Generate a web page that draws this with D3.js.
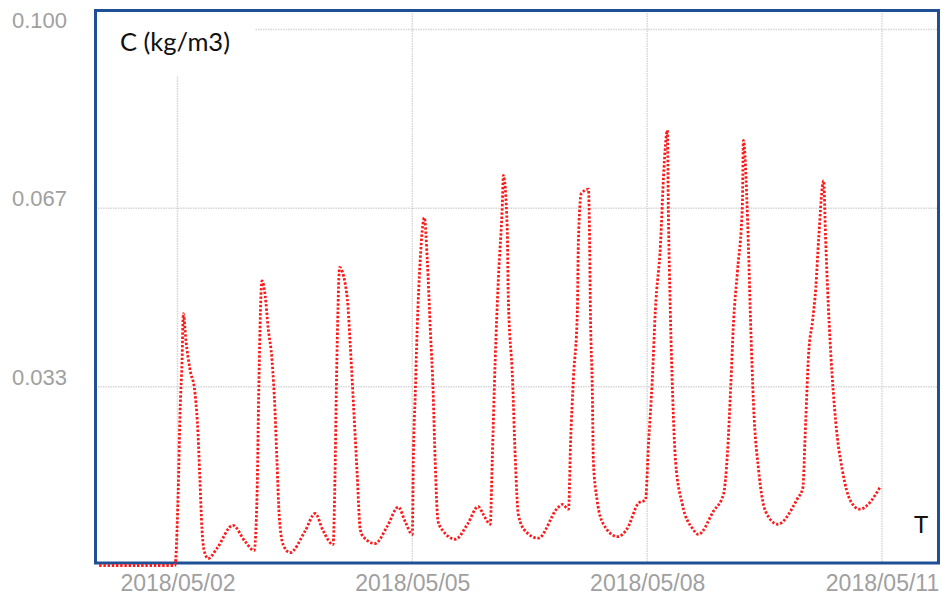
<!DOCTYPE html>
<html>
<head>
<meta charset="utf-8">
<script src="https://cdn.jsdelivr.net/npm/d3@7"></script>
<style>
  html, body { margin: 0; padding: 0; background: #ffffff; }
  svg { display: block; }
</style>
</head>
<body>
<svg id="chart" width="943" height="596"></svg>
<script>
// ---------------- data ----------------
const startTime = "2018-05-01T00:00:00";
// hours elapsed since startTime
const hours = [
  0, 23.2, 24.2, 24.8, 25.4, 25.8, 26.6, 27.8, 29.4, 30.3, 30.9, 31.5, 32.1, 33.4, 36.1, 41.0, 44.7, 47.5,
  48.4, 48.9, 49.3, 49.9, 50.9, 51.8, 53.0, 53.9, 54.5, 55.2, 56.4, 58.5, 63.1, 66.2, 68.7, 71.7,
  72.3, 72.7, 73.1, 73.7, 75.4, 76.3, 76.9, 77.9, 79.1, 80.0, 80.9, 84.6, 88.3, 91.7, 93.8, 96.0,
  96.3, 96.9, 97.5, 98.4, 99.7, 100.6, 101.5, 102.4, 103.0, 103.9, 105.5, 109.2, 112.9, 116.2, 117.8, 119.9,
  120.5, 121.4, 122.4, 123.6, 123.9, 125.1, 125.4, 126.7, 127.6, 128.5, 130.7, 134.6, 140.5, 142.0, 143.9,
  144.5, 145.4, 146.6, 146.9, 147.8, 150.0, 150.3, 150.6, 151.2, 151.5, 152.7, 154.6, 158.9, 161.9, 165.3, 167.5,
  168.4, 169.6, 170.5, 172.1, 173.0, 174.2, 174.5, 175.1, 175.8, 176.7, 178.8, 181.9, 183.7, 188.3, 191.4,
  192.6, 193.6, 194.5, 195.7, 197.2, 197.5, 198.8, 199.7, 200.6, 202.2, 204.3, 208.0, 214.1, 215.7,
  216.6, 217.5, 218.7, 219.7, 220.6, 222.1, 222.7, 223.3, 224.3, 225.8, 227.9, 230.4, 233.2, 239.6
];
// concentration C (kg/m3)
const concentration = [
  0, 0, 0.0133, 0.0288, 0.0382, 0.0470, 0.0419, 0.0367, 0.0320, 0.0245, 0.0157, 0.0069, 0.0030, 0.0013, 0.0032, 0.0075, 0.0045, 0.0028,
  0.0133, 0.0320, 0.0443, 0.0531, 0.0503, 0.0443, 0.0382, 0.0288, 0.0195, 0.0092, 0.0039, 0.0024, 0.0064, 0.0097, 0.0064, 0.0039,
  0.0170, 0.0326, 0.0451, 0.0556, 0.0526, 0.0481, 0.0419, 0.0307, 0.0170, 0.0069, 0.0054, 0.0041, 0.0073, 0.0109, 0.0082, 0.0058,
  0.0195, 0.0320, 0.0443, 0.0568, 0.0649, 0.0568, 0.0443, 0.0320, 0.0195, 0.0082, 0.0064, 0.0049, 0.0077, 0.0110, 0.0095, 0.0077,
  0.0195, 0.0382, 0.0537, 0.0675, 0.0728, 0.0630, 0.0507, 0.0350, 0.0195, 0.0095, 0.0064, 0.0051, 0.0107, 0.0114, 0.0105,
  0.0226, 0.0350, 0.0475, 0.0601, 0.0694, 0.0702, 0.0630, 0.0475, 0.0320, 0.0195, 0.0120, 0.0077, 0.0054, 0.0069, 0.0116, 0.0123,
  0.0226, 0.0350, 0.0475, 0.0601, 0.0724, 0.0812, 0.0662, 0.0475, 0.0320, 0.0195, 0.0114, 0.0069, 0.0058, 0.0101, 0.0133,
  0.0208, 0.0331, 0.0456, 0.0550, 0.0675, 0.0793, 0.0643, 0.0456, 0.0301, 0.0176, 0.0101, 0.0077, 0.0125, 0.0144,
  0.0269, 0.0395, 0.0456, 0.0518, 0.0612, 0.0718, 0.0612, 0.0518, 0.0395, 0.0269, 0.0176, 0.0120, 0.0105, 0.0148
];
const xTickDates = ["2018-05-02T00:00:00", "2018-05-05T00:00:00", "2018-05-08T00:00:00", "2018-05-11T00:00:00"];
const yTickValues = [0.1 / 3, 0.2 / 3, 0.1];
const yTickLabels = ["0.033", "0.067", "0.100"];
const yAxisTitle = "C (kg/m3)";
const xAxisTitle = "T";

// ---------------- chart ----------------
const svg = d3.select("#chart");
const t0 = new Date(startTime);
const points = hours.map((h, i) => ({ t: new Date(t0.getTime() + h * 3600e3), v: concentration[i] }));

const x = d3.scaleTime()
  .domain([new Date("2018-05-01T00:00:00"), new Date("2018-05-11T00:00:00")])
  .range([99.2, 882]);
const y = d3.scaleLinear().domain([0, 0.1]).range([565.5, 29.5]);

const frame = { left: 95.5, top: 10.5, right: 938.5, bottom: 563 };
const gridColor = "#d6d6d6";

// gridlines
const grid = svg.append("g");
grid.selectAll("line.h").data(yTickValues).join("line")
  .attr("x1", frame.left).attr("x2", frame.right)
  .attr("y1", d => y(d)).attr("y2", d => y(d))
  .attr("stroke", gridColor).attr("stroke-width", 1.5).attr("stroke-dasharray", "1.5,1");
grid.selectAll("line.v").data(xTickDates).join("line")
  .attr("x1", d => x(new Date(d))).attr("x2", d => x(new Date(d)))
  .attr("y1", frame.top).attr("y2", frame.bottom)
  .attr("stroke", gridColor).attr("stroke-width", 1.5).attr("stroke-dasharray", "1.5,1");

// label box in the top-left corner (hides gridlines)
svg.append("rect").attr("x", 98).attr("y", 13).attr("width", 157).attr("height", 63).attr("fill", "#ffffff");
svg.append("text").attr("x", 120).attr("y", 51)
  .attr("font-family", "Lato, 'Open Sans', sans-serif").attr("font-size", 25.5).attr("fill", "#111")
  .text(yAxisTitle);
svg.append("text").attr("x", 914).attr("y", 533)
  .attr("font-family", "Lato, 'Open Sans', sans-serif").attr("font-size", 24).attr("fill", "#111")
  .text(xAxisTitle);

// frame
svg.append("rect")
  .attr("x", frame.left).attr("y", frame.top)
  .attr("width", frame.right - frame.left).attr("height", frame.bottom - frame.top)
  .attr("fill", "none").attr("stroke", "#1f4f95").attr("stroke-width", 3);

// axes (labels only)
const xAxis = d3.axisBottom(x)
  .tickValues(xTickDates.map(d => new Date(d)))
  .tickFormat(d3.timeFormat("%Y/%m/%d"))
  .tickSize(0).tickPadding(0);
const gx = svg.append("g").attr("transform", "translate(0,575)")
  .attr("font-family", "'Liberation Sans', Arial, sans-serif").call(xAxis);
gx.attr("font-family", "'Liberation Sans', Arial, sans-serif").attr("font-size", 23);
gx.select(".domain").remove();
gx.selectAll("text").attr("fill", "#a0a0a0").attr("dy", "0.71em");

const yAxis = d3.axisLeft(y)
  .tickValues(yTickValues)
  .tickFormat((d, i) => yTickLabels[i])
  .tickSize(0).tickPadding(0);
const gy = svg.append("g").attr("transform", "translate(67,0)").call(yAxis);
gy.attr("font-family", "'Liberation Sans', Arial, sans-serif").attr("font-size", 22);
gy.select(".domain").remove();
gy.selectAll("text").attr("fill", "#a0a0a0").attr("dy", "-0.1em");

// series line
const line = d3.line().x(d => x(d.t)).y(d => y(d.v)).curve(d3.curveMonotoneX);
svg.append("path").datum(points)
  .attr("d", line)
  .attr("fill", "none")
  .attr("stroke", "#ff1a1a")
  .attr("stroke-width", 2.8)
  .attr("stroke-dasharray", "2.4,1.8");
</script>
</body>
</html>
